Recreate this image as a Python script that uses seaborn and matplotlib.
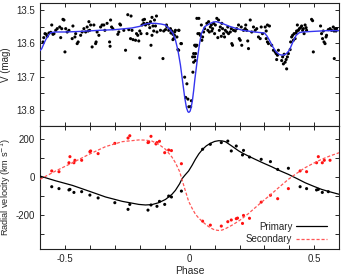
import matplotlib
matplotlib.use("Agg")
import matplotlib.pyplot as plt
from matplotlib.ticker import MultipleLocator
import seaborn as sns
import pandas as pd

# light curve observations (phase, V mag)
lc_phase = [
    -0.588, -0.585, -0.580, -0.575, -0.571, -0.564, -0.557, -0.553, -0.548, -0.544,
    -0.537, -0.531, -0.521, -0.517, -0.513, -0.508, -0.504, -0.500, -0.497, -0.491,
    -0.484, -0.471, -0.468, -0.460, -0.457, -0.451, -0.447, -0.437, -0.431, -0.424,
    -0.417, -0.411, -0.407, -0.404, -0.401, -0.397, -0.391, -0.384, -0.377, -0.375,
    -0.371, -0.364, -0.357, -0.351, -0.344, -0.340, -0.331, -0.321, -0.319, -0.317,
    -0.313, -0.308, -0.288, -0.284, -0.280, -0.277, -0.264, -0.257, -0.248, -0.244,
    -0.237, -0.235, -0.231, -0.227, -0.217, -0.213, -0.208, -0.204, -0.200, -0.195,
    -0.191, -0.187, -0.184, -0.181, -0.200, -0.177, -0.171, -0.171, -0.164, -0.160,
    -0.157, -0.155, -0.151, -0.151, -0.147, -0.144, -0.141, -0.137, -0.133, -0.131,
    -0.117, -0.107, -0.104, -0.097, -0.093, -0.091, -0.084, -0.077, -0.075, -0.071,
    -0.067, -0.064, -0.061, -0.057, -0.051, -0.044, -0.044, -0.035, -0.067, -0.060,
    -0.043, -0.047, -0.033, -0.020, -0.011, -0.016, -0.007, -0.003, 0.004, 0.007,
    0.013, 0.016, 0.020, 0.024, 0.024, 0.029, 0.033, 0.037, 0.012, 0.016,
    0.020, 0.023, 0.025, 0.029, 0.039, 0.043, 0.047, 0.049, 0.052, 0.056,
    0.060, 0.069, 0.073, 0.076, 0.079, 0.083, 0.087, 0.089, 0.092, 0.096,
    0.100, 0.103, 0.109, 0.113, 0.116, 0.119, 0.123, 0.127, 0.129, 0.132,
    0.136, 0.140, 0.143, 0.149, 0.153, 0.156, 0.163, 0.167, 0.169, 0.172,
    0.176, 0.183, 0.189, 0.196, 0.199, 0.203, 0.207, 0.209, 0.216, 0.223,
    0.225, 0.229, 0.233, 0.236, 0.243, 0.249, 0.256, 0.263, 0.269, 0.276,
    0.283, 0.287, 0.292, 0.303, 0.307, 0.312, 0.320, 0.307, 0.312, 0.316,
    0.329, 0.336, 0.343, 0.347, 0.352, 0.349, 0.356, 0.369, 0.373, 0.376,
    0.379, 0.383, 0.387, 0.389, 0.392, 0.396, 0.403, 0.405, 0.409, 0.413,
    0.416, 0.419, 0.423, 0.427, 0.429, 0.432, 0.436, 0.440, 0.445, 0.449,
    0.453, 0.456, 0.459, 0.463, 0.467, 0.469, 0.489, 0.493, 0.496, 0.525,
    0.529, 0.533, 0.536, 0.539, 0.543, 0.547, 0.549, 0.556, 0.563, 0.569,
    0.576, 0.579, 0.583, 0.587, 0.589, 0.580,
]
lc_mag = [
    13.596, 13.583, 13.571, 13.573, 13.579, 13.569, 13.567, 13.545, 13.573, 13.571,
    13.561, 13.556, 13.551, 13.583, 13.556, 13.528, 13.530, 13.626, 13.556, 13.566,
    13.561, 13.586, 13.548, 13.581, 13.571, 13.601, 13.596, 13.576, 13.566, 13.556,
    13.566, 13.551, 13.563, 13.535, 13.561, 13.545, 13.611, 13.545, 13.601, 13.596,
    13.566, 13.576, 13.551, 13.545, 13.545, 13.561, 13.540, 13.596, 13.609, 13.530,
    13.551, 13.556, 13.573, 13.566, 13.542, 13.545, 13.561, 13.621, 13.514, 13.559,
    13.586, 13.518, 13.561, 13.589, 13.591, 13.571, 13.576, 13.593, 13.563, 13.571,
    13.545, 13.530, 13.540, 13.528, 13.644, 13.545, 13.540, 13.571, 13.542, 13.553,
    13.535, 13.606, 13.522, 13.576, 13.548, 13.563, 13.530, 13.548, 13.518, 13.566,
    13.561, 13.646, 13.563, 13.559, 13.545, 13.551, 13.561, 13.556, 13.569, 13.563,
    13.573, 13.586, 13.576, 13.561, 13.581, 13.561, 13.621, 13.601, 13.589, 13.566,
    13.561, 13.619, 13.601, 13.702, 13.722, 13.763, 13.768, 13.791, 13.791, 13.773,
    13.687, 13.657, 13.641, 13.631, 13.606, 13.606, 13.571, 13.525, 13.641, 13.631,
    13.606, 13.652, 13.609, 13.525, 13.571, 13.576, 13.545, 13.591, 13.581, 13.566,
    13.556, 13.540, 13.561, 13.535, 13.566, 13.551, 13.545, 13.563, 13.556, 13.540,
    13.571, 13.545, 13.525, 13.583, 13.530, 13.561, 13.551, 13.579, 13.540, 13.556,
    13.571, 13.581, 13.561, 13.566, 13.551, 13.571, 13.566, 13.556, 13.601, 13.606,
    13.561, 13.563, 13.556, 13.545, 13.586, 13.591, 13.551, 13.606, 13.561, 13.556,
    13.545, 13.561, 13.593, 13.616, 13.530, 13.566, 13.551, 13.561, 13.556, 13.581,
    13.586, 13.551, 13.571, 13.551, 13.563, 13.545, 13.548, 13.586, 13.596, 13.601,
    13.606, 13.621, 13.626, 13.631, 13.636, 13.649, 13.621, 13.652, 13.641, 13.662,
    13.633, 13.657, 13.649, 13.677, 13.641, 13.631, 13.619, 13.596, 13.581, 13.576,
    13.591, 13.571, 13.586, 13.569, 13.563, 13.545, 13.561, 13.556, 13.553, 13.548,
    13.561, 13.556, 13.571, 13.545, 13.553, 13.561, 13.528, 13.532, 13.626, 13.548,
    13.571, 13.586, 13.563, 13.596, 13.601, 13.581, 13.576, 13.559, 13.556, 13.561,
    13.551, 13.563, 13.556, 13.563, 13.556, 13.646,
]

# light curve model
lcm_phase = [-0.600, -0.593, -0.585, -0.577, -0.567, -0.557, -0.540, -0.497, -0.430, -0.364,
             -0.300, -0.232, -0.200, -0.177, -0.157, -0.137, -0.115, -0.097, -0.084, -0.075,
             -0.067, -0.057, -0.047, -0.037, -0.027, -0.020, -0.013, -0.007, -0.003, 0.002,
             0.006, 0.011, 0.016, 0.021, 0.027, 0.033, 0.040, 0.047, 0.060, 0.080,
             0.095, 0.107, 0.130, 0.160, 0.190, 0.213, 0.260, 0.300, 0.310, 0.320,
             0.333, 0.347, 0.360, 0.373, 0.387, 0.400, 0.413, 0.427, 0.440, 0.453,
             0.500, 0.550, 0.600]
lcm_mag = [13.622, 13.616, 13.602, 13.589, 13.577, 13.568, 13.566, 13.566, 13.564, 13.561,
           13.559, 13.554, 13.549, 13.542, 13.540, 13.540, 13.542, 13.545, 13.555, 13.562,
           13.570, 13.590, 13.621, 13.665, 13.722, 13.762, 13.793, 13.806, 13.808, 13.804,
           13.793, 13.773, 13.743, 13.708, 13.672, 13.636, 13.600, 13.571, 13.550, 13.541,
           13.536, 13.535, 13.540, 13.549, 13.556, 13.561, 13.566, 13.569, 13.578, 13.591,
           13.610, 13.626, 13.634, 13.636, 13.632, 13.621, 13.598, 13.576, 13.568, 13.566,
           13.564, 13.562, 13.562]

# radial velocities
rv1_phase = [-0.553, -0.524, -0.484, -0.480, -0.464, -0.433, -0.400, -0.367, -0.300, -0.247,
             -0.240, -0.167, -0.155, -0.131, -0.121, -0.100, -0.084, -0.073, -0.033,
             0.052, 0.083, 0.127, 0.153, 0.167, 0.187, 0.212, 0.216, 0.240, 0.287,
             0.324, 0.353, 0.396, 0.443, 0.469, 0.509, 0.516, 0.532, 0.556]
rv1 = [-51, -61, -68, -65, -81, -77, -95, -110, -135, -170,
       -144, -174, -147, -154, -128, -144, -100, -105, -74,
       146, 172, 181, 189, 137, 163, 116, 140, 105, 93,
       81, 40, 46, -51, -61, -68, -65, -81, -77]
rv2_phase = [-0.553, -0.524, -0.484, -0.480, -0.464, -0.460, -0.433, -0.400, -0.397, -0.367,
             -0.300, -0.247, -0.240, -0.167, -0.164, -0.155, -0.135, -0.131, -0.121, -0.100,
             -0.084, -0.073, -0.033,
             0.052, 0.083, 0.127, 0.153, 0.167, 0.187, 0.192, 0.212, 0.216, 0.240,
             0.287, 0.324, 0.353, 0.396, 0.443, 0.469, 0.509, 0.516, 0.532, 0.540, 0.563]
rv2 = [32, 28, 75, 107, 75, 88, 88, 133, 137, 123,
       177, 205, 217, 181, 184, 214, 174, 181, 188, 128,
       142, 139, 70,
       -232, -253, -258, -235, -226, -219, -216, -244, -202, -217,
       -132, -96, -114, -61, 32, 28, 75, 107, 75, 88, 88]

# orbit models
rvm_phase = [-0.600, -0.537, -0.470, -0.404, -0.337, -0.270, -0.204, -0.177, -0.151, -0.124,
             -0.097, -0.071, -0.057, -0.040, -0.031, -0.020, -0.004, 0.010, 0.023, 0.037,
             0.052, 0.067, 0.083, 0.100, 0.116, 0.130, 0.143, 0.169, 0.196, 0.209,
             0.236, 0.263, 0.296, 0.329, 0.362, 0.396, 0.430, 0.463, 0.496, 0.529,
             0.563, 0.600]
rvm1 = [5, -20, -44, -74, -105, -128, -144, -147, -145, -135,
        -118, -91, -70, -35, -10, 8, 32, 62, 93, 122,
        146, 164, 177, 187, 191, 190, 186, 163, 138, 128,
        110, 93, 73, 54, 33, 14, -8, -30, -48, -65,
        -78, -91]
rvm2 = [-12, 32, 75, 119, 160, 186, 195, 194, 189, 172,
        146, 105, 75, 28, -12, -60, -128, -165, -195, -217,
        -235, -252, -267, -278, -281, -279, -272, -254, -232, -220,
        -192, -161, -124, -88, -50, -12, 20, 49, 72, 93,
        111, 128]

sns.set_theme(style="ticks")
plt.rcParams["font.family"] = ["Liberation Sans", "DejaVu Sans"]
plt.rcParams["font.size"] = 7
plt.rcParams["axes.linewidth"] = 0.8
plt.rcParams["axes.unicode_minus"] = False

lc = pd.DataFrame({"phase": lc_phase, "mag": lc_mag})
lcm = pd.DataFrame({"phase": lcm_phase, "mag": lcm_mag})

fig = plt.figure(figsize=(3.42, 2.75), dpi=100)
ax1 = fig.add_axes([0.117, 0.543, 0.875, 0.447])
ax2 = fig.add_axes([0.117, 0.0935, 0.875, 0.4495])

sns.scatterplot(data=lc, x="phase", y="mag", ax=ax1, color="black", s=5,
                edgecolor="none", zorder=2)
sns.lineplot(data=lcm, x="phase", y="mag", ax=ax1, color="#3535f0", lw=1,
             zorder=3)
ax1.set_xlim(-0.6, 0.6)
ax1.set_ylim(13.848, 13.478)
ax1.set_xlabel("")
ax1.set_ylabel("V (mag)", fontsize=7, labelpad=4)
ax1.tick_params(labelbottom=False)
ax1.yaxis.set_major_locator(MultipleLocator(0.1))
ax1.yaxis.set_minor_locator(MultipleLocator(0.05))

sns.scatterplot(x=rv1_phase, y=rv1, ax=ax2, color="black", s=5,
                edgecolor="none", zorder=2)
sns.scatterplot(x=rv2_phase, y=rv2, ax=ax2, color="#ff1010", s=5,
                edgecolor="none", zorder=2)
sns.lineplot(x=rvm_phase, y=rvm1, ax=ax2, color="black", lw=0.9,
             label="Primary", zorder=3)
sns.lineplot(x=rvm_phase, y=rvm2, ax=ax2, color="#ff5555", lw=0.9,
             linestyle=(0, (2.5, 1.5)), label="Secondary", zorder=3)
ax2.set_xlim(-0.6, 0.6)
ax2.set_ylim(-380, 270)
ax2.set_xlabel("Phase", fontsize=7.5, labelpad=1)
ax2.set_ylabel("Radial velocity (km s$^{-1}$)", fontsize=6.6, labelpad=2)
ax2.yaxis.set_major_locator(MultipleLocator(200))
ax2.yaxis.set_minor_locator(MultipleLocator(100))
ax2.legend(loc="lower right", bbox_to_anchor=(0.965, 0.025), frameon=False,
           markerfirst=False, fontsize=7, handlelength=3.2, handletextpad=0.35,
           labelspacing=0.25, borderpad=0.2, borderaxespad=0)

for ax in (ax1, ax2):
    ax.xaxis.set_major_locator(MultipleLocator(0.5))
    ax.xaxis.set_minor_locator(MultipleLocator(0.1))
    ax.tick_params(which="both", direction="in", top=True, right=True,
                   length=3, width=0.7, labelsize=7, pad=3.5)
    for sp in ax.spines.values():
        sp.set_color("#222222")

ax2.xaxis.set_major_formatter(plt.FuncFormatter(
    lambda v, p: "0" if abs(v) < 1e-9 else f"{v:g}"))

fig.savefig("out.png", dpi=100)
